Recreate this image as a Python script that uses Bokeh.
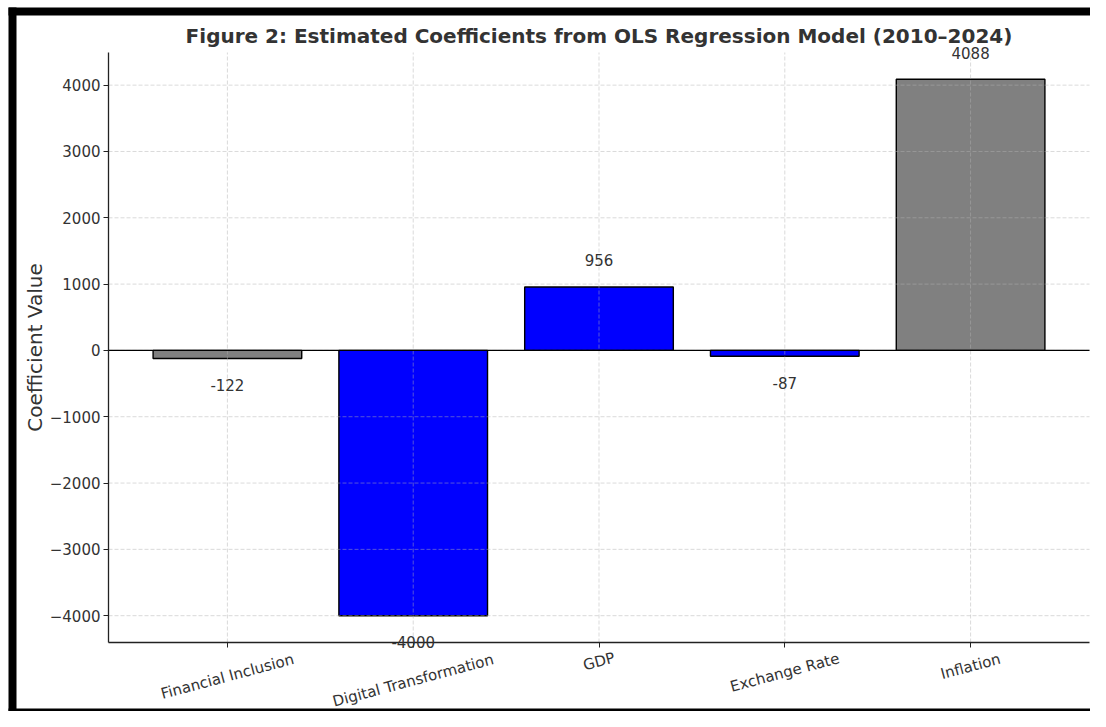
import math
from bokeh.plotting import figure
from bokeh.models import (Range1d, FixedTicker, ColumnDataSource, LabelSet, Label,
                          CustomJSTickFormatter)
from bokeh.core.properties import value
from bokeh.embed import file_html
from bokeh.resources import INLINE

# ---- data ----
variables = ["Financial Inclusion", "Digital Transformation", "GDP", "Exchange Rate", "Inflation"]
coefficients = [-122, -4000, 956, -87, 4088]
bar_colors = ["#808080", "#0000ff", "#0000ff", "#0000ff", "#808080"]
y_ticks = [-4000, -3000, -2000, -1000, 0, 1000, 2000, 3000, 4000]
label_offset = 400
title_text = "Figure 2: Estimated Coefficients from OLS Regression Model (2010\u20132024)"
y_label = "Coefficient Value"

# ---- layout constants (pixels in the 1090x711 figure) ----
FIG_W, FIG_H = 1090, 711
AX_L, AX_T, AX_R, AX_B = 108, 52, 1089, 642               # axes area
TITLE_Y_PX = 35
YLABEL_X_PX = 34
tick_label_drop = [34, 38, 19, 30, 24]   # px from x axis to centre of rotated category label
BAR_W = 0.8
# black picture frame: (left, top, right, bottom) in px
frame_strips = [(8, 7, 16, FIG_H), (8, 7, FIG_W, 15), (8, FIG_H - 3, FIG_W, FIG_H)]

FONT = "DejaVu Sans"
TXT = "#333333"
AXC = "#222222"
GRID = "#b0b0b0"

n = len(variables)
idx = list(range(n))

# data limits with matplotlib-like 5% margins
lo = min(min(coefficients), 0)
hi = max(max(coefficients), 0)
y_lo, y_hi = lo - 0.05 * (hi - lo), hi + 0.05 * (hi - lo)
xspan = (n - 1) + BAR_W
x_lo, x_hi = -BAR_W / 2 - 0.05 * xspan, (n - 1) + BAR_W / 2 + 0.05 * xspan

ux = (x_hi - x_lo) / (AX_R - AX_L)
uy = (y_hi - y_lo) / (AX_B - AX_T)


def px_x(px):
    return x_lo + (px - AX_L) * ux


def px_y(py):
    return y_hi - (py - AX_T) * uy


src = ColumnDataSource(dict(
    x=idx,
    top=coefficients,
    color=bar_colors,
    ly=[c + label_offset if c >= 0 else c - label_offset for c in coefficients],
    txt=[str(c) for c in coefficients],
))

p = figure(
    x_range=Range1d(px_x(0), px_x(FIG_W)),
    y_range=Range1d(px_y(FIG_H), px_y(0)),
    frame_width=FIG_W, frame_height=FIG_H,
    min_border=0, min_border_left=0, min_border_right=0,
    min_border_top=0, min_border_bottom=0,
    output_backend="svg", toolbar_location=None,
)
p.outline_line_color = None
p.background_fill_color = "white"
p.border_fill_color = "white"
p.xgrid.visible = False
p.ygrid.visible = False

# black picture frame
p.quad(left=[px_x(s[0]) for s in frame_strips], right=[px_x(s[2]) for s in frame_strips],
       top=[px_y(s[1]) for s in frame_strips], bottom=[px_y(s[3]) for s in frame_strips],
       fill_color="black", line_color=None)

# bars
p.vbar(x="x", top="top", bottom=0, width=BAR_W, source=src,
       fill_color="color", line_color="black", line_width=1.4)

# grid lines over the axes area (drawn above the bars, like the original)
p.segment(x0=[x_lo] * len(y_ticks), x1=[x_hi] * len(y_ticks), y0=y_ticks, y1=y_ticks,
          line_color=GRID, line_alpha=0.6, line_width=0.8, line_dash="4 2")
p.segment(x0=idx, x1=idx, y0=[y_lo] * n, y1=[y_hi] * n,
          line_color=GRID, line_alpha=0.6, line_width=0.8, line_dash="4 2")

# zero line
p.segment(x0=[x_lo], x1=[x_hi], y0=[0], y1=[0], line_color="black", line_width=1.3)

# value labels
p.add_layout(LabelSet(x="x", y="ly", text="txt", source=src, text_align="center",
                      text_baseline="middle", text_font=value(FONT),
                      text_font_size=value("15px"), text_color=TXT))

# rotated category labels, centred under each tick
cat_src = ColumnDataSource(dict(x=idx, y=[y_lo] * n, txt=variables,
                                dy=[-d for d in tick_label_drop]))
p.add_layout(LabelSet(x="x", y="y", text="txt", y_offset="dy", source=cat_src,
                      angle=math.radians(15), text_align="center", text_baseline="middle",
                      text_font=value(FONT), text_font_size=value("15px"), text_color=TXT))

# title and y-axis label
p.add_layout(Label(x=(x_lo + x_hi) / 2, y=px_y(TITLE_Y_PX), text=title_text,
                   text_align="center", text_baseline="middle", text_font=FONT,
                   text_font_size="20px", text_font_style="bold", text_color=TXT))
p.add_layout(Label(x=px_x(YLABEL_X_PX), y=(y_lo + y_hi) / 2, text=y_label,
                   angle=math.pi / 2, text_align="center", text_baseline="middle",
                   text_font=FONT, text_font_size="20px", text_color=TXT))

# axes
p.yaxis.fixed_location = x_lo
p.yaxis.bounds = (y_lo, y_hi)
p.yaxis.ticker = FixedTicker(ticks=y_ticks)
p.yaxis.major_label_overrides = {t: str(t).replace("-", "\u2212") for t in y_ticks}
p.yaxis.major_label_standoff = 3

p.xaxis.fixed_location = y_lo
p.xaxis.bounds = (x_lo, x_hi)
p.xaxis.ticker = FixedTicker(ticks=idx)
p.xaxis.formatter = CustomJSTickFormatter(code="return ''")

for ax in (p.xaxis, p.yaxis):
    ax.axis_line_color = AXC
    ax.axis_line_width = 1.3
    ax.major_tick_line_color = AXC
    ax.major_tick_out = 5
    ax.major_tick_in = 0
    ax.minor_tick_line_color = None
    ax.major_label_text_font = FONT
    ax.major_label_text_font_size = "15px"
    ax.major_label_text_color = TXT

open("out.html", "w").write(file_html(p, INLINE))
